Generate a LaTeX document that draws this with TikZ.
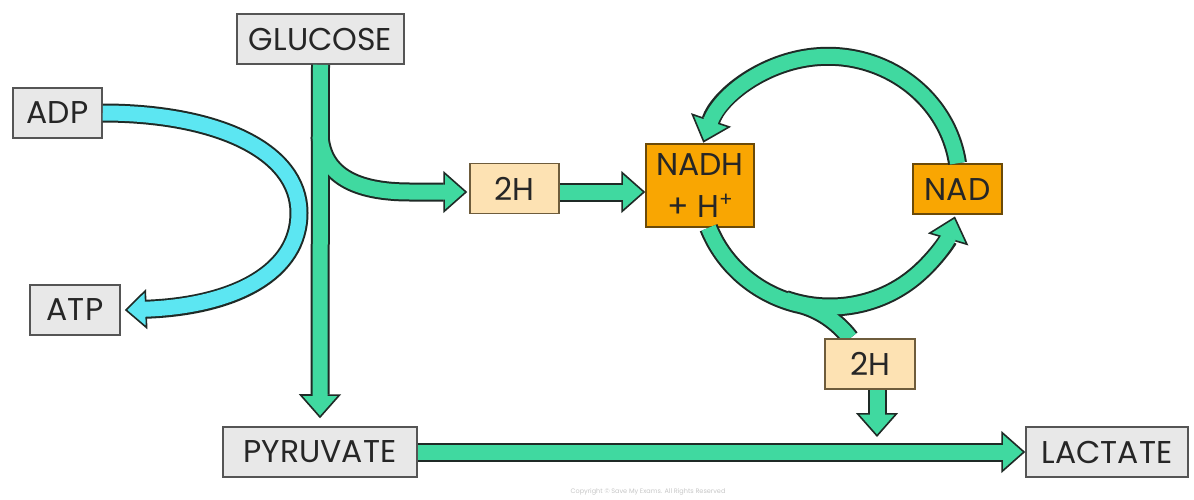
\documentclass[tikz,border=0pt]{standalone}
\usepackage{fontspec}
\setmainfont{Poppins}
\usetikzlibrary{arrows.meta,calc}

\definecolor{mint}{HTML}{40D9A0}
\definecolor{skyc}{HTML}{5CE6F2}
\definecolor{edge}{HTML}{1F2A26}
\definecolor{greyfill}{HTML}{E8E8E8}
\definecolor{greyline}{HTML}{555555}
\definecolor{peach}{HTML}{FDE2B3}
\definecolor{peachline}{HTML}{6E5C3C}
\definecolor{amber}{HTML}{F9A602}
\definecolor{amberline}{HTML}{6B4A08}
\definecolor{inktext}{HTML}{262626}

\tikzset{
  box/.style={rectangle, minimum height=50pt, inner sep=0pt, line width=1.5pt,
    text=inktext, font=\fontsize{31.5}{42}\selectfont},
  gbox/.style={box, fill=greyfill, draw=greyline},
  pbox/.style={box, fill=peach, draw=peachline},
  obox/.style={box, fill=amber, draw=amberline},
  % block arrows: a dark wide stroke with the head, then a coloured core
  arrline/.style={draw=edge, line width=19pt,
    -{Triangle[length=24pt,width=42pt,line width=1.6pt,fill=#1]}},
  arrline/.default=mint,
  arrfill/.style={draw=#1, line width=15pt, shorten >=21pt},
  arrfill/.default=mint,
}

\begin{document}
\begin{tikzpicture}[x=1pt,y=1pt]
\useasboundingbox (0,0) rectangle (1194,-499);
\fill[white] (0,0) rectangle (1194,-499);

% boxes
\node[gbox, minimum width=167pt] (glucose) at (320.5,-39) {GLUCOSE};
\node[gbox, minimum width=89pt] (adp) at (57.5,-113) {ADP};
\node[gbox, minimum width=90pt] (atp) at (75,-310) {ATP};
\node[pbox, minimum width=89pt] (h2a) at (514.5,-188.5) {2H};
\node[obox, minimum width=108pt, minimum height=83pt, align=center] (nadh) at (700,-185.5) {NADH\\+ H\raisebox{11pt}{\fontsize{20}{20}\selectfont +}};
\node[obox, minimum width=89pt] (nad) at (957.5,-189) {NAD};
\node[pbox, minimum width=90pt] (h2b) at (870,-364) {2H};
\node[gbox, minimum width=194pt] (pyruvate) at (320,-452) {PYRUVATE};
\node[gbox, minimum width=162pt] (lactate) at (1107,-452) {LACTATE};

% helper points
\coordinate (fork) at (320,-136);
\coordinate (ringc) at (830,-182);
\coordinate (ringjoin) at ($(ringc)+(250:130 and 125)$);
\coordinate (drop) at (877,-437);

% connector paths
\def\pGlu{(glucose.south) -- ([yshift=8pt]pyruvate.north)}
\def\pBr{(fork) .. controls (323,-175) and (355,-192) .. (410,-192) -- ([xshift=-2pt,yshift=-3.5pt]h2a.west)}
\def\pHN{([yshift=-3.5pt]h2a.east) -- ([yshift=-6.5pt]nadh.west)}
\def\pAdp{(adp.east) .. controls (215,-113) and (299,-150) .. (299,-213) .. controls (299,-272) and (235,-306) .. ([xshift=4pt]atp.east)}
\def\pTop{(nad.north) arc[start angle=8.3, end angle=162, x radius=131, y radius=125]}
\def\pLow{([xshift=8.6pt]nadh.south) arc[start angle=201, end angle=255, x radius=130, y radius=125] .. controls (818,-308) and (838,-322) .. ([xshift=-20pt]h2b.north)}
\def\pUp{(ringjoin) arc[start angle=250, end angle=344, x radius=130, y radius=125]}
\def\pDrop{([xshift=7pt]h2b.south) -- (drop)}
\def\pLac{(pyruvate.east) -- (lactate.west)}

% dark outlines and heads
\draw[arrline=skyc, -{Triangle[length=22pt,width=40pt,line width=1.6pt,fill=skyc]}] \pAdp;
\draw[arrline] \pBr;
\draw[arrline] \pGlu;
\draw[arrline] \pHN;
\draw[arrline] \pTop;
\draw[draw=edge, line width=19pt] \pLow;
\draw[arrline] \pUp;
\draw[arrline] \pDrop;
\draw[arrline] \pLac;

% coloured cores
\draw[arrfill=skyc, shorten >=19pt] \pAdp;
\draw[arrfill] \pBr;
\draw[arrfill] \pGlu;
\draw[arrfill] \pHN;
\draw[arrfill] \pTop;
\draw[draw=mint, line width=15pt] \pLow;
\draw[arrfill] \pUp;
\draw[arrfill] \pDrop;
\draw[arrfill] \pLac;

% redraw the 2H box so the branch tucks under its edge
\node[pbox, minimum width=90pt] at (h2b) {2H};

\node[text=black!22, font=\fontsize{6.5}{7}\selectfont] (copy) at (648,-492) {Copyright \textcopyright\ Save My Exams. All Rights Reserved};
\end{tikzpicture}
\end{document}
